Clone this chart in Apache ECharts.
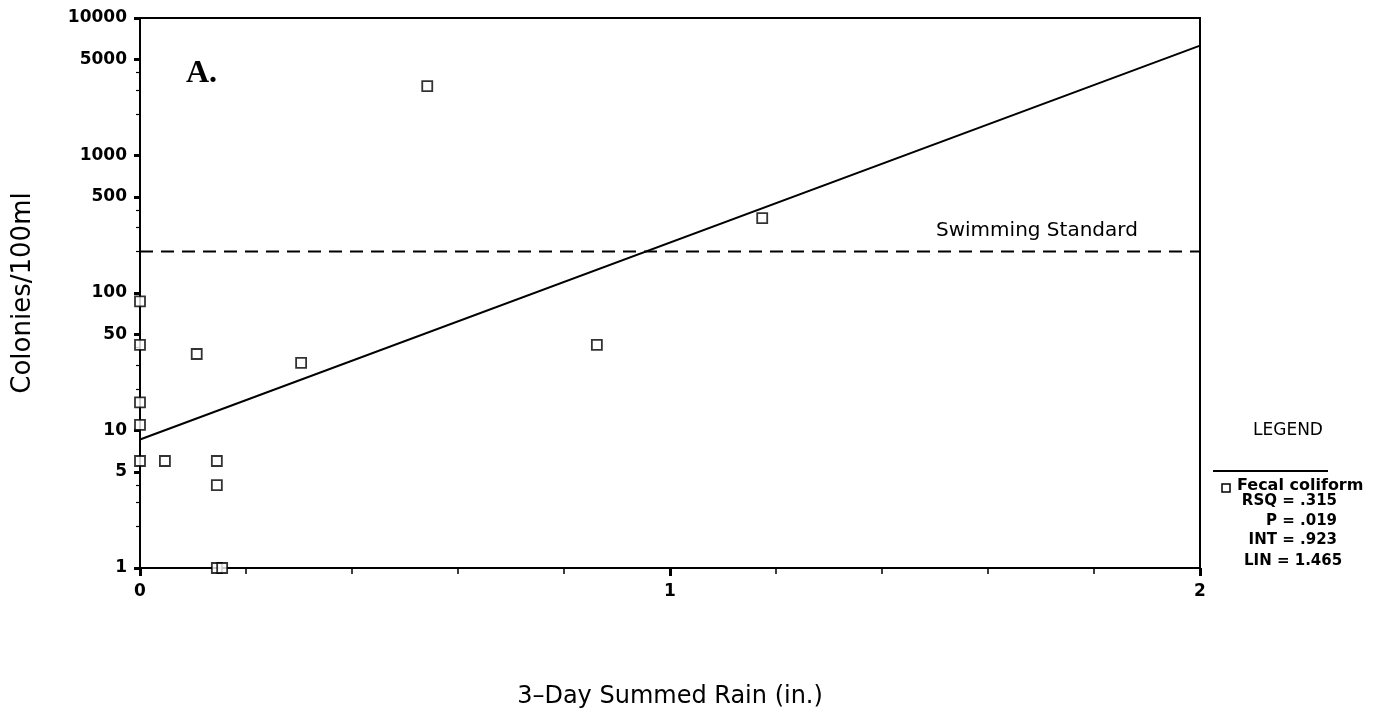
<!DOCTYPE html>
<html><head><meta charset="utf-8">
<script src="https://cdn.jsdelivr.net/npm/echarts@6/dist/echarts.min.js"></script>
<style>html,body{margin:0;padding:0;background:#fff}#c{width:1385px;height:717px}</style>
</head><body><div id="c"></div>
<script>
// Observations: 3-day summed rain (in.) and fecal coliform colonies/100ml
const rain = [0, 0, 0, 0, 0, 0.047, 0.107, 0.145, 0.145, 0.145, 0.155, 0.304, 0.542, 0.862, 1.174];
const colonies = [87, 42, 16, 11, 6, 6, 36, 6, 4, 1, 1, 31, 3200, 42, 350];
// Regression line endpoints (log10 fit)
const fitX = [0, 2];
const fitY = [8.6, 6300];
// Swimming standard
const standard = 200;
const yLabels = [1, 5, 10, 50, 100, 500, 1000, 5000, 10000];
const yMinor = [2, 3, 4, 20, 30, 40, 200, 300, 400, 2000, 3000, 4000];
const xLabels = [0, 1, 2];
const legendStats = ['RSQ = .315', 'P = .019', 'INT = .923', 'LIN = 1.465'];

const FONT = '"DejaVu Sans", sans-serif';
const chart = echarts.init(document.getElementById('c'));
const pts = rain.map((x, i) => [x, colonies[i]]);
const fit = fitX.map((x, i) => [x, fitY[i]]);
const std = [[0, standard], [2, standard]];

chart.setOption({
  animation: false,
  backgroundColor: '#fff',
  grid: { left: 140, right: 185, top: 18, bottom: 149, show: true, borderColor: '#000', borderWidth: 2, backgroundColor: 'transparent' },
  xAxis: {
    type: 'value', min: 0, max: 2, interval: 1,
    name: '3\u2013Day Summed Rain (in.)', nameLocation: 'middle', nameGap: 117,
    nameTextStyle: { fontFamily: FONT, fontSize: 24, color: '#000' },
    axisLine: { lineStyle: { color: '#000', width: 2 } },
    axisTick: { length: 8, lineStyle: { color: '#000', width: 3 } },
    minorTick: { show: true, splitNumber: 5, length: 6, lineStyle: { color: '#000', width: 1.5 } },
    splitLine: { show: false },
    axisLabel: { formatter: v => String(v), fontFamily: FONT, fontWeight: 'bold', fontSize: 17, color: '#000', margin: 15 }
  },
  yAxis: [{
    type: 'log', logBase: 10, min: 1, max: 10000,
    name: 'Colonies/100ml', nameLocation: 'middle', nameGap: 104,
    nameTextStyle: { fontFamily: FONT, fontSize: 26, color: '#000' },
    axisLine: { lineStyle: { color: '#000', width: 2 } },
    axisTick: { length: 6, customValues: yLabels, lineStyle: { color: '#000', width: 3 } },
    splitLine: { show: false },
    axisLabel: { customValues: yLabels, formatter: v => String(v), fontFamily: FONT, fontWeight: 'bold', fontSize: 17, color: '#000', margin: 13 }
  }, {
    type: 'log', logBase: 10, min: 1, max: 10000, position: 'left',
    axisLine: { show: false },
    axisTick: { length: 4, customValues: yMinor, lineStyle: { color: '#000', width: 1.2 } },
    axisLabel: { show: false },
    splitLine: { show: false }
  }],
  series: [
    { type: 'line', data: fit, showSymbol: false, lineStyle: { color: '#000', width: 2 }, z: 3 },
    { type: 'line', data: std, showSymbol: false, lineStyle: { color: '#000', width: 2, type: [13, 8] }, z: 3 },
    { type: 'scatter', data: pts, symbol: 'rect', symbolSize: 10, itemStyle: { color: '#fff', borderColor: '#000', borderWidth: 1.8 }, z: 5 }
  ],
  graphic: [
    { type: 'text', left: 186, top: 58, style: { text: 'A.', font: 'bold 32px "Liberation Serif", serif', fill: '#000' } },
    { type: 'text', left: 936, top: 221, style: { text: 'Swimming Standard', font: '20px ' + FONT, fill: '#000' } },
    { type: 'text', left: 1253, top: 422, style: { text: 'LEGEND', font: '17px ' + FONT, fill: '#000' } },
    { type: 'line', shape: { x1: 1213, y1: 471, x2: 1328, y2: 471 }, style: { stroke: '#000', lineWidth: 2 } },
    { type: 'rect', shape: { x: 1222, y: 484, width: 8, height: 8 }, style: { fill: '#fff', stroke: '#000', lineWidth: 1.5 } },
    { type: 'text', left: 1237, top: 478, style: { text: 'Fecal coliform', font: 'bold 16px ' + FONT, fill: '#000' } },
    { type: 'text', right: 1385 - 1337, top: 494, style: { text: legendStats[0], font: 'bold 15px ' + FONT, fill: '#000', align: 'right' } },
    { type: 'text', right: 1385 - 1337, top: 514, style: { text: legendStats[1], font: 'bold 15px ' + FONT, fill: '#000', align: 'right' } },
    { type: 'text', right: 1385 - 1337, top: 533, style: { text: legendStats[2], font: 'bold 15px ' + FONT, fill: '#000', align: 'right' } },
    { type: 'text', left: 1244, top: 554, style: { text: legendStats[3], font: 'bold 15px ' + FONT, fill: '#000' } }
  ]
});
</script></body></html>
